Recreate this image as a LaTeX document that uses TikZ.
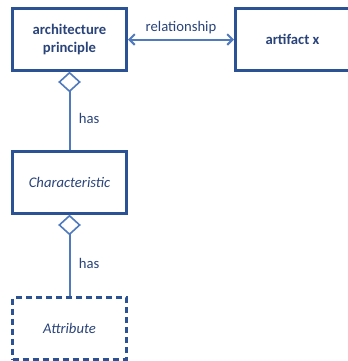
\documentclass[tikz,border=0pt]{standalone}
\usepackage{fontspec}
\setmainfont{Carlito}
\usepackage{xcolor}
\usetikzlibrary{arrows.meta}

\definecolor{boxblue}{RGB}{44,82,150}
\definecolor{lineblue}{RGB}{80,122,190}
\definecolor{textblue}{RGB}{42,68,122}

\begin{document}
\begin{tikzpicture}[x=0.75pt,y=-0.75pt,
  entity/.style={draw=boxblue, line width=2.25pt, minimum width=85.5pt, minimum height=46pt,
    text=textblue, align=center, font=\fontsize{11}{13.5}\selectfont},
  dashentity/.style={entity, dash pattern=on 4.5pt off 3pt},
  conn/.style={draw=lineblue, line width=1.5pt},
  lbl/.style={text=textblue, font=\fontsize{11}{13.5}\selectfont}]
\useasboundingbox (0,0) rectangle (347,361);
\fill[white] (0,0) rectangle (347,361);

\node[entity] (principle) at (69.5,39.5) {\textbf{architecture}\\\textbf{principle}};
\node[entity] (artifact) at (292.5,39.5) {\textbf{artifact x}};
\node[entity] (characteristic) at (69.5,182.5) {\textit{Characteristic}};
\node[dashentity] (attribute) at (69.5,328.5) {\textit{Attribute}};

\draw[conn, {Straight Barb[length=4pt,width=8pt]}-{Straight Barb[length=4pt,width=8pt]}]
  (principle) -- (artifact) node[lbl, midway, above] {relationship};
\draw[conn, -{Diamond[open,length=15.5pt,width=17pt,line width=1.2pt]}]
  (characteristic) -- (principle) node[lbl, pos=.4, right=3pt] {has};
\draw[conn, -{Diamond[open,length=15.5pt,width=17pt,line width=1.2pt]}]
  (attribute) -- (characteristic) node[lbl, pos=.4, right=3pt] {has};
\end{tikzpicture}
\end{document}
